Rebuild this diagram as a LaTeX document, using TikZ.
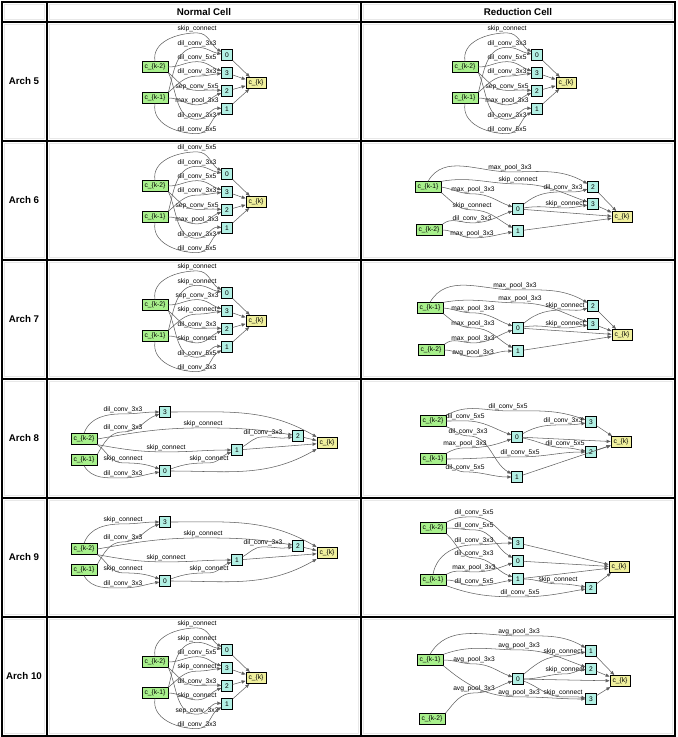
\documentclass[tikz,border=0pt]{standalone}
\usepackage{fontspec}
\setmainfont{Liberation Sans}
\usetikzlibrary{arrows.meta}
\definecolor{inpgreen}{RGB}{168,240,140}
\definecolor{midcyan}{RGB}{178,240,228}
\definecolor{outyellow}{RGB}{240,240,158}
\definecolor{edgegray}{RGB}{95,95,95}
\tikzset{
  tabline/.style={line width=0.8pt},
  cellline/.style={draw=gray!18,line width=0.3pt},
  head/.style={font=\fontsize{7.3}{8}\selectfont\bfseries},
  inp/.style={draw,line width=0.5pt,fill=inpgreen,font=\fontsize{5}{6}\selectfont,
    inner xsep=2pt,inner ysep=1pt,minimum height=8pt},
  mid/.style={draw,line width=0.5pt,fill=midcyan,font=\fontsize{5}{6}\selectfont,
    inner sep=1pt,minimum width=8pt,minimum height=8.5pt},
  outp/.style={draw,line width=0.5pt,fill=outyellow,font=\fontsize{5}{6}\selectfont,
    inner xsep=2pt,inner ysep=1pt,minimum height=8.5pt},
  lbl/.style={font=\fontsize{5}{6}\selectfont,inner sep=0.4pt},
  edge/.style={draw=edgegray,line width=0.4pt,-{Triangle[length=3pt,width=2.4pt]}}
}
% cell with the two inputs stacked left of four nodes
\newcommand{\stackcell}[3]{%
  \begin{scope}[shift={#2}]
    \node[inp] (#1k2) at (155,45) {c\_\{k-2\}};
    \node[inp] (#1k1) at (155,76) {c\_\{k-1\}};
    \node[mid] (#10) at (227,33) {0};
    \node[mid] (#13) at (227,51) {3};
    \node[mid] (#12) at (227,69) {2};
    \node[mid] (#11) at (227,87) {1};
    \node[outp] (#1ck) at (256,61) {c\_\{k\}};
    \foreach \txt [count=\n] in {#3}
      \node[lbl] (#1l\n) at (197,{7+14.4*(\n-1)}) {\txt};
    \foreach \n/\src/\ao/\dst/\ai in {1/k2.north/100/0/150,2/k1.north east/75/0/170,%
        3/k2.east/0/3/160,4/k1.north east/40/3/185,5/k2.south east/-40/2/175,%
        6/k1.east/0/2/200,7/k2.south east/-65/1/175,8/k1.south/-100/1/210}
      \draw[edge] (#1\src) to[out=\ao,in=180] (#1l\n.south) to[out=0,in=\ai] (#1\dst);
    \foreach \m in {0,3,2,1}
      \draw[edge] (#1\m) -- (#1ck);
  \end{scope}}
\begin{document}
\begin{tikzpicture}[x=0.75pt,y=-0.75pt]
  \useasboundingbox (0,0) rectangle (677,737);

  % table
  \foreach \xa/\xb in {2/47,47/361,361/675}
    \foreach \ya/\yb in {2/22,22/141,141/260,260/379,379/498,498/617,617/736}
      \draw[cellline] (\xa+2.5,\ya+2.5) rectangle (\xb-2.5,\yb-2.5);
  \draw[tabline] (2,2) rectangle (675,736);
  \foreach \xx in {47,361} \draw[tabline] (\xx,2) -- (\xx,736);
  \foreach \yy in {22,141,260,379,498,617} \draw[tabline] (2,\yy) -- (675,\yy);
  \node[head] (hnorm) at (204,12) {Normal Cell};
  \node[head] (hred) at (518,12) {Reduction Cell};
  \foreach \k/\yy in {5/81,6/200,7/319,8/438,9/557,10/676}
    \node[head] (arch\k) at (24,\yy) {Arch \k};

  % stacked cells
  \stackcell{a}{(0,22)}{skip\_connect,dil\_conv\_3x3,dil\_conv\_5x5,dil\_conv\_3x3,sep\_conv\_5x5,max\_pool\_3x3,dil\_conv\_3x3,dil\_conv\_5x5}
  \stackcell{b}{(310,22)}{skip\_connect,dil\_conv\_3x3,dil\_conv\_5x5,dil\_conv\_3x3,sep\_conv\_5x5,max\_pool\_3x3,dil\_conv\_3x3,dil\_conv\_5x5}
  \stackcell{c}{(0,141)}{dil\_conv\_5x5,dil\_conv\_3x3,dil\_conv\_5x5,dil\_conv\_3x3,sep\_conv\_5x5,max\_pool\_3x3,dil\_conv\_3x3,dil\_conv\_5x5}
  \stackcell{d}{(0,260)}{skip\_connect,skip\_connect,sep\_conv\_3x3,skip\_connect,dil\_conv\_3x3,skip\_connect,dil\_conv\_5x5,dil\_conv\_3x3}
  \stackcell{e}{(0,617)}{skip\_connect,skip\_connect,dil\_conv\_5x5,skip\_connect,dil\_conv\_3x3,skip\_connect,sep\_conv\_3x3,dil\_conv\_3x3}

  % Arch 6 reduction
  \node[inp] (fk1) at (428,187) {c\_\{k-1\}};
  \node[inp] (fk2) at (429,230) {c\_\{k-2\}};
  \node[mid] (f0) at (518,209) {0};
  \node[mid] (f1) at (518,231) {1};
  \node[mid] (f2) at (593,187) {2};
  \node[mid] (f3) at (593,204) {3};
  \node[outp] (fck) at (622,217) {c\_\{k\}};
  \foreach \src/\dst/\lx/\ly/\txt/\ao/\ai in {fk1.north/f2/510/168/max\_pool\_3x3/60/150,
      fk1.north east/f3/518/180/skip\_connect/10/160,
      fk1.east/f0/473/190/max\_pool\_3x3/-10/160,
      fk1.south east/f1/472/206/skip\_connect/-40/150,
      fk2.north east/f0/472/219/dil\_conv\_3x3/40/200,
      fk2.east/f1/472/234/max\_pool\_3x3/0/190,
      f0/f2/563/188/dil\_conv\_3x3/40/200,
      f0/f3/565/204/skip\_connect/10/190} {
    \node[lbl] (f\lx-\ly) at (\lx,\ly) {\txt};
    \draw[edge] (\src) to[out=\ao,in=180] (f\lx-\ly.south) to[out=0,in=\ai] (\dst);
  }
  \foreach \m in {f0,f1,f2,f3} \draw[edge] (\m) -- (fck);

  % Arch 7 reduction
  \node[inp] (gk1) at (430,308) {c\_\{k-1\}};
  \node[inp] (gk2) at (431,350) {c\_\{k-2\}};
  \node[mid] (g0) at (518,328) {0};
  \node[mid] (g1) at (518,351) {1};
  \node[mid] (g2) at (593,306) {2};
  \node[mid] (g3) at (593,324) {3};
  \node[outp] (gck) at (622,335) {c\_\{k\}};
  \foreach \src/\dst/\lx/\ly/\txt/\ao/\ai in {gk1.north/g2/515/286/max\_pool\_3x3/60/150,
      gk1.north east/g3/520/299/max\_pool\_3x3/10/160,
      gk1.east/g0/473/309/max\_pool\_3x3/-5/160,
      gk1.south east/g1/473/324/max\_pool\_3x3/-40/150,
      gk2.north east/g0/473/339/max\_pool\_3x3/40/200,
      gk2.east/g1/473/353/avg\_pool\_3x3/0/180,
      g0/g2/565/306/skip\_connect/40/200,
      g0/g3/565/324/skip\_connect/10/190} {
    \node[lbl] (g\lx-\ly) at (\lx,\ly) {\txt};
    \draw[edge] (\src) to[out=\ao,in=180] (g\lx-\ly.south) to[out=0,in=\ai] (\dst);
  }
  \foreach \m in {g0,g1,g2,g3} \draw[edge] (\m) -- (gck);

  % Arch 8 normal
  \node[inp] (hk2) at (84,439) {c\_\{k-2\}};
  \node[inp] (hk1) at (84,460) {c\_\{k-1\}};
  \node[mid] (h3) at (165,412) {3};
  \node[mid] (h0) at (165,471) {0};
  \node[mid] (h1) at (237,450) {1};
  \node[mid] (h2) at (298,436) {2};
  \node[outp] (hck) at (327,443) {c\_\{k\}};
  \foreach \src/\dst/\lx/\ly/\txt/\ao/\ai in {hk2.north/h3/123/410/dil\_conv\_3x3/70/180,
      hk1.north east/h3/123/428/dil\_conv\_3x3/60/200,
      hk2.east/h2/203/424/skip\_connect/10/170,
      h1/h2/263/433/dil\_conv\_3x3/30/190,
      hk2.south east/h1/166/448/skip\_connect/-10/180,
      hk2.south east/h0/123/459/skip\_connect/-35/160,
      h0/h1/209/459/skip\_connect/20/200,
      hk1.south/h0/123/474/dil\_conv\_3x3/-60/190} {
    \node[lbl] (h\lx-\ly) at (\lx,\ly) {\txt};
    \draw[edge] (\src) to[out=\ao,in=180] (h\lx-\ly.south) to[out=0,in=\ai] (\dst);
  }
  \draw[edge] (h3) to[out=0,in=150] (hck);
  \draw[edge] (h2) -- (hck);
  \draw[edge] (h1) -- (hck);
  \draw[edge] (h0) to[out=0,in=210] (hck);

  % Arch 8 reduction
  \node[inp] (jk2) at (433,421) {c\_\{k-2\}};
  \node[inp] (jk1) at (433,459) {c\_\{k-1\}};
  \node[mid] (j0) at (517,437) {0};
  \node[mid] (j1) at (517,477) {1};
  \node[mid] (j3) at (591,422) {3};
  \node[mid] (j2) at (591,452) {2};
  \node[outp] (jck) at (621,442) {c\_\{k\}};
  \foreach \src/\dst/\lx/\ly/\txt/\ao/\ai in {jk2.north east/j3/508/407/dil\_conv\_5x5/30/160,
      jk2.east/j0/465/417/dil\_conv\_5x5/0/160,
      j0/j3/563/421/dil\_conv\_3x3/30/190,
      jk2.south east/j1/468/432/dil\_conv\_3x3/-20/150,
      jk1.north east/j0/465/444/max\_pool\_3x3/30/200,
      j0/j2/565/444/dil\_conv\_5x5/-10/170,
      jk1.east/j2/520/453/dil\_conv\_5x5/0/180,
      jk1.south east/j1/465/468/dil\_conv\_5x5/-20/180} {
    \node[lbl] (j\lx-\ly) at (\lx,\ly) {\txt};
    \draw[edge] (\src) to[out=\ao,in=180] (j\lx-\ly.south) to[out=0,in=\ai] (\dst);
  }
  \foreach \m in {j0,j1,j2,j3} \draw[edge] (\m) -- (jck);

  % Arch 9 normal
  \node[inp] (ik2) at (84,549) {c\_\{k-2\}};
  \node[inp] (ik1) at (84,570) {c\_\{k-1\}};
  \node[mid] (i3) at (165,522) {3};
  \node[mid] (i0) at (165,581) {0};
  \node[mid] (i1) at (237,560) {1};
  \node[mid] (i2) at (298,546) {2};
  \node[outp] (ick) at (327,553) {c\_\{k\}};
  \foreach \src/\dst/\lx/\ly/\txt/\ao/\ai in {ik2.north/i3/123/520/skip\_connect/70/180,
      ik1.north east/i3/123/538/dil\_conv\_3x3/60/200,
      ik2.east/i2/203/534/skip\_connect/10/170,
      i1/i2/263/543/dil\_conv\_3x3/30/190,
      ik2.south east/i1/166/558/skip\_connect/-10/180,
      ik2.south east/i0/123/569/skip\_connect/-35/160,
      i0/i1/209/569/skip\_connect/20/200,
      ik1.south/i0/123/584/dil\_conv\_3x3/-60/190} {
    \node[lbl] (i\lx-\ly) at (\lx,\ly) {\txt};
    \draw[edge] (\src) to[out=\ao,in=180] (i\lx-\ly.south) to[out=0,in=\ai] (\dst);
  }
  \draw[edge] (i3) to[out=0,in=150] (ick);
  \draw[edge] (i2) -- (ick);
  \draw[edge] (i1) -- (ick);
  \draw[edge] (i0) to[out=0,in=210] (ick);

  % Arch 9 reduction
  \node[inp] (mk2) at (433,528) {c\_\{k-2\}};
  \node[inp] (mk1) at (433,580) {c\_\{k-1\}};
  \node[mid] (m3) at (518,543) {3};
  \node[mid] (m0) at (518,561) {0};
  \node[mid] (m1) at (518,579) {1};
  \node[mid] (m2) at (591,588) {2};
  \node[outp] (mck) at (619,567) {c\_\{k\}};
  \foreach \src/\dst/\lx/\ly/\txt/\ao/\ai in {mk2.north east/m3/474/513/dil\_conv\_5x5/30/150,
      mk2.east/m0/474/526/dil\_conv\_5x5/0/150,
      mk1.north/m3/474/541/dil\_conv\_3x3/80/180,
      mk2.south east/m1/474/554/dil\_conv\_3x3/-40/160,
      mk1.north east/m0/474/568/max\_pool\_3x3/30/200,
      mk1.east/m1/474/582/dil\_conv\_5x5/0/190,
      m1/m2/558/580/skip\_connect/0/170,
      mk1.south east/m2/520/593/dil\_conv\_5x5/-20/190} {
    \node[lbl] (m\lx-\ly) at (\lx,\ly) {\txt};
    \draw[edge] (\src) to[out=\ao,in=180] (m\lx-\ly.south) to[out=0,in=\ai] (\dst);
  }
  \foreach \m in {m0,m1,m2,m3} \draw[edge] (\m) -- (mck);

  % Arch 10 reduction
  \node[inp] (rk1) at (430,660) {c\_\{k-1\}};
  \node[inp] (rk2) at (432,719) {c\_\{k-2\}};
  \node[mid] (r0) at (518,679) {0};
  \node[mid] (r1) at (591,651) {1};
  \node[mid] (r2) at (591,669) {2};
  \node[mid] (r3) at (591,699) {3};
  \node[outp] (rck) at (620,681) {c\_\{k\}};
  \foreach \src/\dst/\lx/\ly/\txt/\ao/\ai in {rk1.north/r1/519/632/avg\_pool\_3x3/60/150,
      rk1.north east/r2/519/646/avg\_pool\_3x3/20/160,
      r0/r1/563/652/skip\_connect/40/190,
      rk1.east/r0/474/660/avg\_pool\_3x3/0/160,
      r0/r2/565/670/skip\_connect/0/185,
      rk2.north east/r0/474/689/avg\_pool\_3x3/50/200,
      rk1.south east/r3/519/693/avg\_pool\_3x3/-40/180,
      r0/r3/563/693/skip\_connect/-20/170} {
    \node[lbl] (r\lx-\ly) at (\lx,\ly) {\txt};
    \draw[edge] (\src) to[out=\ao,in=180] (r\lx-\ly.south) to[out=0,in=\ai] (\dst);
  }
  \foreach \m in {r0,r1,r2,r3} \draw[edge] (\m) -- (rck);
\end{tikzpicture}
\end{document}
